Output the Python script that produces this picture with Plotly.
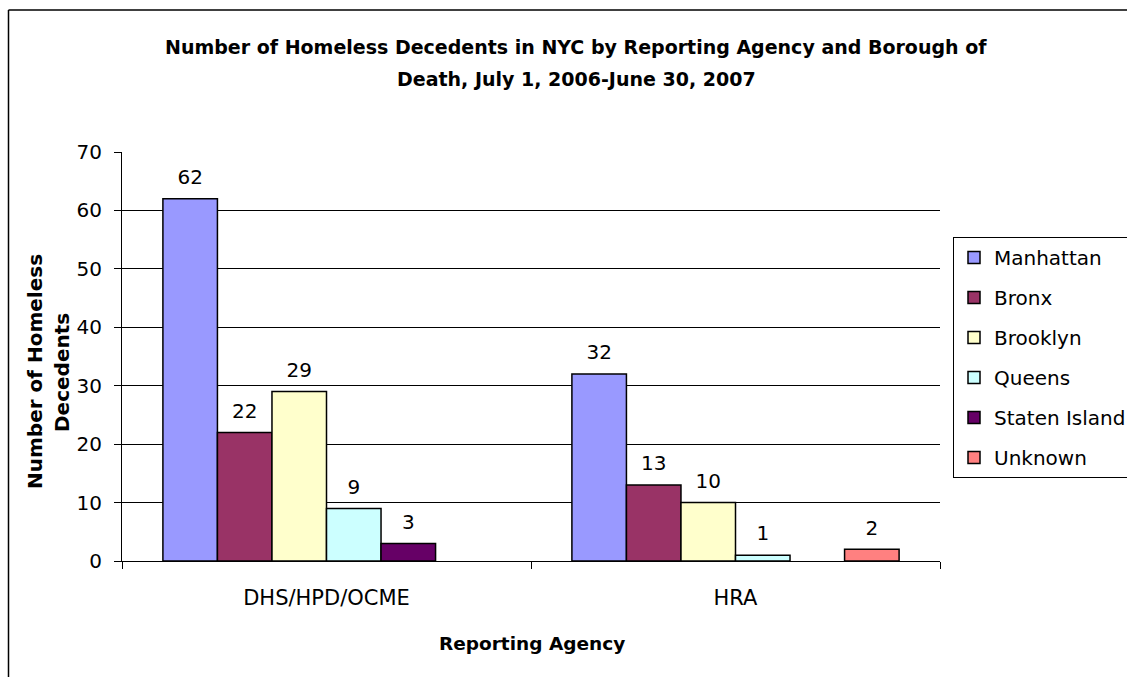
import plotly.graph_objects as go

agencies = ["DHS/HPD/OCME", "HRA"]
boroughs = ["Manhattan", "Bronx", "Brooklyn", "Queens", "Staten Island", "Unknown"]
manhattan = [62, 32]
bronx = [22, 13]
brooklyn = [29, 10]
queens = [9, 1]
staten_island = [3, None]
unknown = [None, 2]
series = [manhattan, bronx, brooklyn, queens, staten_island, unknown]
colors = ["#9999FF", "#993366", "#FFFFCC", "#CCFFFF", "#660066", "#FF8080"]

FONT = "DejaVu Sans"
W, H = 1127, 677
# plot area in page pixels
PL, PR, PT, PB = 122, 940, 152, 561


def px_x(px):  # page px -> paper x
    return (px - PL) / (PR - PL)


def px_y(py):  # page px -> paper y
    return (PB - py) / (PB - PT)


fig = go.Figure()
for name, vals, col in zip(boroughs, series, colors):
    fig.add_trace(go.Bar(
        x=agencies, y=vals, name=name, legendgroup=name, offsetgroup=name,
        marker=dict(color=col, line=dict(color="black", width=1.5)),
        hoverinfo="x+y+name",
    ))
# data labels, aligned with the grouped bars
for name, vals in zip(boroughs, series):
    fig.add_trace(go.Scatter(
        x=agencies, y=vals, name=name, legendgroup=name, offsetgroup=name,
        mode="markers+text", showlegend=False, hoverinfo="skip",
        marker=dict(size=14, color="rgba(0,0,0,0)"),
        text=[("" if v is None else str(v)) for v in vals],
        textposition="top center", cliponaxis=False,
        textfont=dict(family=FONT, size=20, color="black"),
    ))

title_lines = [
    ("Number of Homeless Decedents in NYC by Reporting Agency and Borough of", 47),
    ("Death, July 1, 2006-June 30, 2007", 79),
]
annotations = [
    dict(text="<b>%s</b>" % t, xref="paper", yref="paper", x=px_x(576), y=px_y(yy),
         showarrow=False, xanchor="center", yanchor="middle",
         font=dict(family=FONT, size=19, color="black"))
    for t, yy in title_lines
]
annotations += [
    dict(text="<b>Number of Homeless</b>", textangle=-90, xref="paper", yref="paper",
         x=px_x(35), y=px_y(372), showarrow=False, xanchor="center", yanchor="middle",
         font=dict(family=FONT, size=20, color="black")),
    dict(text="<b>Decedents</b>", textangle=-90, xref="paper", yref="paper",
         x=px_x(62), y=px_y(372), showarrow=False, xanchor="center", yanchor="middle",
         font=dict(family=FONT, size=20, color="black")),
    dict(text="<b>Reporting Agency</b>", xref="paper", yref="paper",
         x=px_x(532), y=px_y(643), showarrow=False, xanchor="center", yanchor="middle",
         font=dict(family=FONT, size=18.5, color="black")),
]

fig.update_layout(
    width=W, height=H,
    margin=dict(l=PL, r=W - PR, t=PT, b=H - PB, pad=0, autoexpand=False),
    paper_bgcolor="white", plot_bgcolor="white",
    barmode="group", bargap=0.2, bargroupgap=0,
    scattermode="group", scattergap=0.2,
    font=dict(family=FONT, size=20, color="black"),
    showlegend=True,
    legend=dict(
        x=px_x(953), y=px_y(237), xanchor="left", yanchor="top",
        bordercolor="black", borderwidth=1, bgcolor="white",
        font=dict(family=FONT, size=20, color="black"),
        tracegroupgap=11, traceorder="grouped",
    ),
    xaxis=dict(
        showgrid=False, showline=True, linecolor="black", linewidth=1,
        ticks="outside", ticklen=7, tickcolor="black", tickson="boundaries",
        tickfont=dict(family=FONT, size=21), ticklabelstandoff=18,
    ),
    yaxis=dict(
        range=[0, 70], dtick=10, showgrid=True, gridcolor="black", gridwidth=1,
        showline=True, linecolor="black", linewidth=1,
        ticks="outside", ticklen=7, tickcolor="black",
        tickfont=dict(family=FONT, size=20), zeroline=False, ticklabelstandoff=8,
    ),
    shapes=[
        dict(type="line", xref="paper", yref="paper",
             x0=px_x(8.5), x1=px_x(8.5), y0=px_y(10), y1=px_y(700),
             line=dict(color="black", width=1.5)),
        dict(type="line", xref="paper", yref="paper",
             x0=px_x(8.5), x1=px_x(1140), y0=px_y(10), y1=px_y(10),
             line=dict(color="black", width=1.5)),
    ],
    annotations=annotations,
)

fig.write_html(
    "out.html",
    config={"displayModeBar": False},
    post_script="document.body.style.margin='0px';document.body.style.overflow='hidden';",
)
